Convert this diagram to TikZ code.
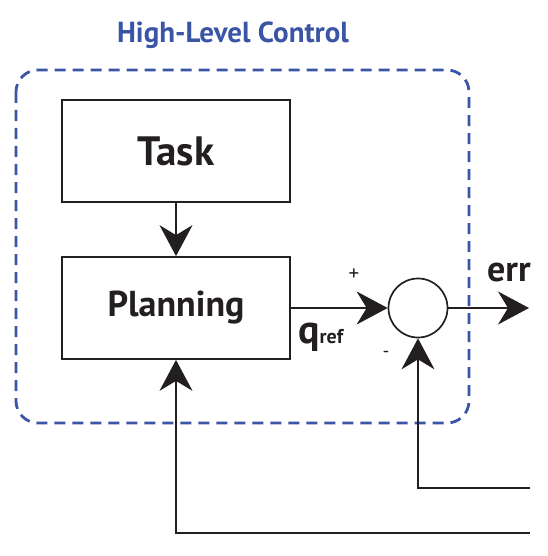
\documentclass[tikz,border=0pt]{standalone}
\usepackage{fontspec}
\setmainfont{PT Sans}
\usetikzlibrary{arrows.meta}
\definecolor{hlblue}{HTML}{3A55A6}
\definecolor{ink}{HTML}{231F20}
\tikzset{
  blockbox/.style={draw=ink, line width=1.7pt, minimum width=228pt, minimum height=102pt, inner sep=0pt, font=\bfseries\fontsize{36}{42}\selectfont, text=ink},
  conn/.style={draw=ink, line width=1.7pt, -{Stealth[length=31pt,width=33pt,inset=10pt]}},
}
\begin{document}
\begin{tikzpicture}[x=1pt,y=-1pt]
\useasboundingbox (0,0) rectangle (547,556);
\node[text=hlblue, font=\bfseries\fontsize{29}{34}\selectfont] (title) at (233,35) {High-Level Control};
\draw[hlblue, line width=2.8pt, dash pattern=on 11pt off 7pt, rounded corners=22pt] (16,70) rectangle (469,423);
\node[blockbox, font=\bfseries\fontsize{41}{48}\selectfont] (task) at (176,151) {Task};
\node[blockbox] (plan) at (176,308) {Planning};
\node[draw=ink, line width=1.7pt, circle, minimum size=59pt, inner sep=0pt] (sum) at (418,308) {};
\coordinate (errend) at (529,308);
\coordinate (fb1) at (530,488);
\coordinate (fb1c) at (418,488);
\coordinate (fb2) at (530,533);
\coordinate (fb2c) at (176,533);
\draw[conn] (task.south) -- (plan.north);
\draw[conn] (plan.east) -- (sum.west);
\draw[conn] (sum.east) -- (errend);
\draw[conn] (fb1) -- (fb1c) -- (sum.south);
\draw[conn] (fb2) -- (fb2c) -- (plan.south);
\node[text=ink, font=\fontsize{21}{24}\selectfont] (plus) at (354,275) {+};
\node[text=ink, font=\fontsize{19}{22}\selectfont] (minus) at (386,354) {-};
\node[text=ink, font=\bfseries\fontsize{36}{42}\selectfont, anchor=base west, inner sep=0pt] (err) at (487,281) {err};
\node[text=ink, anchor=base west, inner sep=0pt] (qref) at (298,343) {\bfseries\fontsize{40}{46}\selectfont q\fontsize{20}{24}\selectfont ref};
\end{tikzpicture}
\end{document}
